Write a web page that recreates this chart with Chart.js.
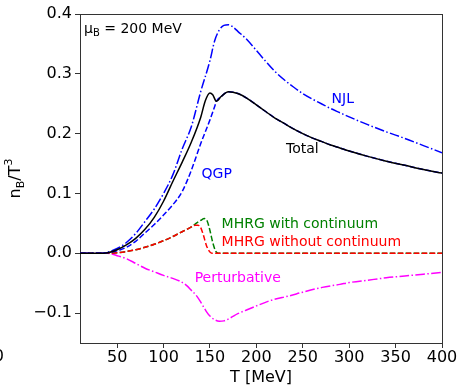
<!DOCTYPE html>
<html><head><meta charset="utf-8">
<script src="https://cdn.jsdelivr.net/npm/chart.js@4.4.1/dist/chart.umd.min.js"></script>
<style>html,body{margin:0;padding:0;background:#fff;} canvas{display:block;}</style>
</head><body>
<canvas id="c" width="459" height="385"></canvas>
<script>
const xTicks = [50,100,150,200,250,300,350,400];
const yTicks = [-0.1,0,0.1,0.2,0.3,0.4];

const T_total = [10,20,30,40,50,60,70,80,90,100,110,120,130,140,145,150,153,157,162,170,180,190,200,210,220,230,240,250,260,270,280,290,300,320,340,360,380,400];
const totalVals = [0,0,0,0.001,0.006,0.014,0.025,0.04,0.06,0.087,0.12,0.152,0.186,0.227,0.255,0.268,0.265,0.254,0.262,0.27,0.267,0.259,0.248,0.237,0.226,0.217,0.208,0.2,0.193,0.187,0.181,0.176,0.171,0.162,0.154,0.147,0.14,0.134];

const T_qgp = [10,20,30,40,50,60,70,80,90,100,110,120,130,140,150,155,157,162,170,180,190,200,210,220,230,240,250,260,270,280,290,300,320,340,360,380,400];
const qgpVals = [0,0,0,0.001,0.004,0.01,0.02,0.034,0.048,0.064,0.081,0.103,0.139,0.183,0.223,0.245,0.254,0.262,0.27,0.267,0.259,0.248,0.237,0.226,0.217,0.208,0.2,0.193,0.187,0.181,0.176,0.171,0.162,0.154,0.147,0.14,0.134];

const T_njl = [10,20,30,40,50,60,70,80,90,100,110,120,130,140,150,155,160,165,170,175,180,190,200,210,220,230,240,250,260,270,280,290,300,320,340,360,380,400];
const njlVals = [0,0,0,0.002,0.008,0.018,0.033,0.053,0.074,0.1,0.131,0.174,0.212,0.27,0.322,0.355,0.373,0.381,0.382,0.378,0.371,0.357,0.339,0.321,0.304,0.29,0.278,0.267,0.258,0.25,0.242,0.235,0.228,0.215,0.203,0.192,0.18,0.168];

const T_mhrg = [10,30,40,50,60,70,80,90,100,110,120,125,130,134,137,140,143,146,149,152,160,400];
const mhrgVals = [0,0,0,0.001,0.003,0.006,0.01,0.015,0.021,0.028,0.036,0.04,0.044,0.047,0.047,0.043,0.03,0.014,0.004,0,0,0];

const T_mhrgC = [10,30,40,50,60,70,80,90,100,110,120,125,130,135,140,144,147,150,153,156,159,170,400];
const mhrgCVals = [0,0,0,0.001,0.003,0.006,0.01,0.015,0.021,0.028,0.036,0.04,0.044,0.05,0.055,0.058,0.054,0.038,0.018,0.004,0,0,0];

const T_pert = [10,30,40,50,60,70,80,90,100,110,118,125,130,136,141,146,150,155,160,165,172,180,190,200,215,236,250,271,290,300,320,340,360,380,400];
const pertVals = [0,0,0,-0.004,-0.009,-0.017,-0.025,-0.031,-0.037,-0.042,-0.047,-0.054,-0.062,-0.072,-0.084,-0.097,-0.105,-0.111,-0.1135,-0.113,-0.108,-0.101,-0.0945,-0.088,-0.079,-0.071,-0.065,-0.057,-0.052,-0.049,-0.045,-0.041,-0.038,-0.035,-0.032];

const FONT = "'DejaVu Sans', sans-serif";
const DASHDOT = [9.6,2.4,1.5,2.4];
const DASHED = [5.55,2.4];

function pts(xs, ys){ return xs.map((x,i)=>({x:x, y:ys[i]})); }
function ds(label, xs, ys, color, dash){
  return {label, data: pts(xs,ys), borderColor: color, backgroundColor: color,
    borderWidth: 1.5, borderDash: dash, pointRadius: 0, fill: false,
    cubicInterpolationMode: 'monotone'};
}

const textLabels = [
  {text:'NJL', T:281, v:0.257, color:'#0000ff'},
  {text:'Total', T:232, v:0.173, color:'#000000'},
  {text:'QGP', T:141, v:0.132, color:'#0000ff'},
  {text:'MHRG with continuum', T:162.5, v:0.048, color:'#008000'},
  {text:'MHRG without continuum', T:162.5, v:0.018, color:'#ff0000'},
  {text:'Perturbative', T:133.5, v:-0.042, color:'#ff00ff'}
];

const deco = {
  id:'deco',
  afterDraw(chart){
    const ctx = chart.ctx, a = chart.chartArea;
    const xs = chart.scales.x, ys = chart.scales.y;
    ctx.save();
    ctx.strokeStyle = '#333'; ctx.lineWidth = 1;
    ctx.beginPath();
    ctx.moveTo(a.left, a.top+0.5); ctx.lineTo(a.right+0.5, a.top+0.5);
    ctx.moveTo(a.right+0.5, a.top); ctx.lineTo(a.right+0.5, a.bottom);
    ctx.stroke();
    ctx.font = '14px ' + FONT;
    ctx.textBaseline = 'middle'; ctx.textAlign = 'left';
    textLabels.forEach(l=>{
      ctx.fillStyle = l.color;
      ctx.fillText(l.text, xs.getPixelForValue(l.T), ys.getPixelForValue(l.v));
    });
    ctx.fillStyle = '#000'; ctx.textBaseline = 'alphabetic';
    let x = a.left + 4, y = a.top + 19;
    ctx.font = '14px ' + FONT; ctx.fillText('\u03bc', x, y); x += ctx.measureText('\u03bc').width;
    ctx.font = '10px ' + FONT; ctx.fillText('B', x, y + 3); x += ctx.measureText('B').width;
    ctx.font = '14px ' + FONT; ctx.fillText(' = 200 MeV', x, y);
    ctx.save();
    ctx.translate(20, (a.top + a.bottom)/2);
    ctx.rotate(-Math.PI/2);
    const parts = [['n',16,0],['B',11,4],['/T',16,0],['3',11,-8]];
    let w = 0;
    parts.forEach(p=>{ ctx.font = p[1]+'px '+FONT; w += ctx.measureText(p[0]).width; });
    let px = -w/2;
    parts.forEach(p=>{ ctx.font = p[1]+'px '+FONT; ctx.fillText(p[0], px, p[2]); px += ctx.measureText(p[0]).width; });
    ctx.restore();
    ctx.font = '16px ' + FONT; ctx.textAlign = 'right'; ctx.textBaseline = 'middle';
    ctx.fillText('0', 4, 357);
    ctx.restore();
  }
};

new Chart(document.getElementById('c'), {
  type: 'line',
  data: { datasets: [
    ds('Total', T_total, totalVals, '#000000', []),
    ds('NJL', T_njl, njlVals, '#0000ff', DASHDOT),
    ds('QGP', T_qgp, qgpVals, '#0000ff', DASHED),
    ds('MHRG without continuum', T_mhrg, mhrgVals, '#ff0000', DASHED),
    ds('MHRG with continuum', T_mhrgC, mhrgCVals, '#008000', DASHED),
    ds('Perturbative', T_pert, pertVals, '#ff00ff', DASHDOT)
  ]},
  options: {
    responsive: false, animation: false, devicePixelRatio: 1,
    layout: { padding: { left: 0, top: 14, right: 17, bottom: 0 } },
    plugins: { legend: {display:false}, tooltip: {enabled:false}, title:{display:false} },
    scales: {
      x: {
        type: 'linear', min: 10, max: 400,
        afterBuildTicks: s => { s.ticks = xTicks.map(v=>({value:v})); },
        afterFit: s => { s.height = 42; },
        ticks: { font: {family: FONT, size: 16}, color: '#000', padding: 0, maxRotation: 0, autoSkip: false },
        grid: { drawOnChartArea: false, drawTicks: true, tickLength: 5, color: '#333' },
        border: { display: true, color: '#333', width: 1 },
        title: { display: true, text: 'T [MeV]', color: '#000', font: {family: FONT, size: 16, lineHeight: 1}, padding: {top:0, bottom:-1} }
      },
      y: {
        type: 'linear', min: -0.15, max: 0.4,
        afterBuildTicks: s => { s.ticks = yTicks.map(v=>({value:v})); },
        afterFit: s => { s.width = 80; },
        ticks: { font: {family: FONT, size: 16}, color: '#000', padding: 3,
          callback: v => (v < -1e-9 ? '\u2212' + Math.abs(v).toFixed(1) : Math.abs(v).toFixed(1)) },
        grid: { drawOnChartArea: false, drawTicks: true, tickLength: 5, color: '#333' },
        border: { display: true, color: '#333', width: 1 }
      }
    }
  },
  plugins: [deco]
});
</script>
</body></html>
